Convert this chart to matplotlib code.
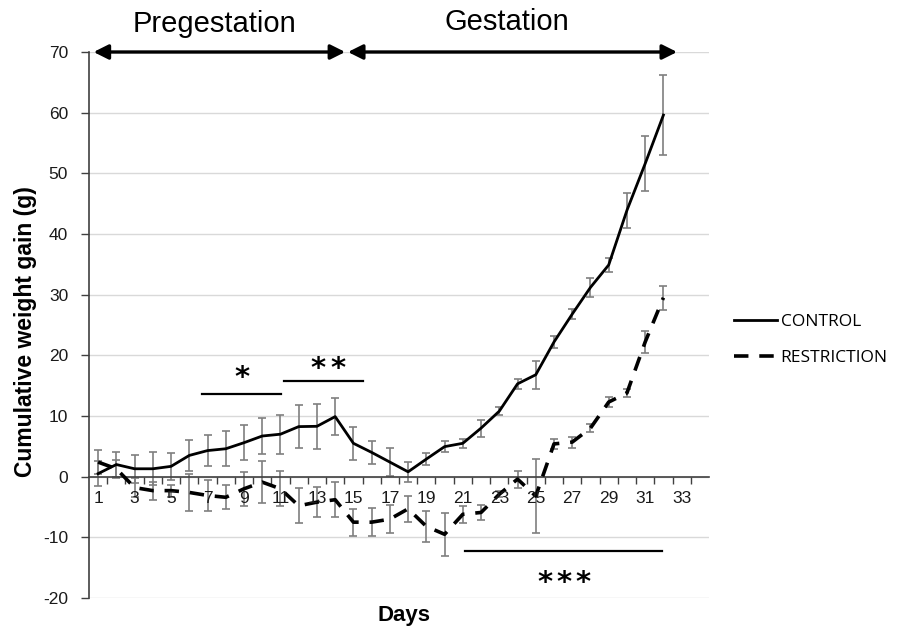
import matplotlib
matplotlib.use("Agg")
import matplotlib.pyplot as plt
import numpy as np

plt.rcParams['font.family'] = ['Liberation Sans', 'DejaVu Sans']

days = list(range(1, 33))
control = [0.5, 2.0, 1.3, 1.3, 1.7, 3.5, 4.3, 4.6, 5.6, 6.7, 7.0, 8.25, 8.3, 9.9,
           5.5, 4.0, 2.4, 0.8, 2.9, 4.95, 5.5, 8.0, 10.8, 15.3, 16.8, 22.2, 26.8,
           31.2, 34.9, 43.9, 51.6, 59.6]
control_se = [2.0, 2.0, 2.3, 2.7, 2.2, 2.5, 2.5, 2.9, 2.9, 3.0, 3.2, 3.5, 3.7, 3.1,
              2.7, 1.9, 2.3, 1.6, 1.0, 0.9, 0.7, 1.4, 0.7, 0.8, 2.3, 1.0, 0.8,
              1.6, 1.1, 2.9, 4.5, 6.6]
restriction = [2.4, 1.3, -1.8, -2.3, -2.3, -2.6, -3.1, -3.4, -2.0, -0.9, -2.0, -4.8,
               -4.2, -3.8, -7.5, -7.5, -7.0, -5.3, -8.2, -9.5, -6.2, -5.9, -2.9,
               -0.4, -3.2, 5.4, 5.7, 8.0, 12.3, 13.8, 22.2, 29.5]
restriction_se = [2.0, 1.5, 1.5, 1.5, 1.0, 3.0, 2.5, 2.0, 2.8, 3.5, 2.9, 2.9, 2.5,
                  2.9, 2.2, 2.3, 2.3, 2.1, 2.5, 3.5, 1.4, 1.2, 0.5, 1.4, 6.1, 0.8,
                  0.9, 0.7, 0.8, 0.6, 1.8, 2.0]
x_tick_labels = [str(d) for d in range(1, 34, 2)]
y_ticks = list(range(-20, 71, 10))

fig = plt.figure(figsize=(8.97, 6.27), dpi=100)
ax = fig.add_axes([89/897, 29/627, (709-89)/897, (598-52)/627])

ax.set_xlim(0.5, 34.5)
ax.set_ylim(-20, 70)
for y in y_ticks:
    ax.axhline(y, color='#d9d9d9', lw=1.0, zorder=0)

ax.errorbar(days, control, yerr=control_se, fmt='none', ecolor='#7f7f7f',
            elinewidth=1.2, capsize=3, capthick=1.2, zorder=2)
ax.errorbar(days, restriction, yerr=restriction_se, fmt='none', ecolor='#7f7f7f',
            elinewidth=1.2, capsize=3, capthick=1.2, zorder=2)
l1, = ax.plot(days, control, color='black', lw=2.0, zorder=3, label='CONTROL')
l2, = ax.plot(days, restriction, color='black', lw=2.6, ls=(0, (4, 3)), zorder=3,
              label='RESTRICTION')

ax.spines['top'].set_visible(False)
ax.spines['right'].set_visible(False)
ax.spines['bottom'].set_position(('data', 0))
ax.spines['left'].set_color('#404040')
ax.spines['bottom'].set_color('#404040')
ax.spines['left'].set_linewidth(1.2)
ax.spines['bottom'].set_linewidth(1.2)

ax.set_xticks(np.arange(1.5, 34.5, 1))
ax.set_xticklabels([])
ax.tick_params(axis='x', which='major', direction='out', length=5, color='#404040', width=1)
for i, lab in enumerate(x_tick_labels):
    d = 1 + 2 * i
    ax.text(d, -2.4, lab, ha='center', va='top', fontsize=12.5, color='#1a1a1a')

ax.set_yticks(y_ticks)
ax.set_yticklabels([str(v) for v in y_ticks], fontsize=12.5, color='#1a1a1a')
ax.tick_params(axis='y', direction='out', length=6, color='#404040', width=1, pad=9)

fig.text(26/897, 1 - 332/627, 'Cumulative weight gain (g)', rotation=90, ha='center',
         va='center', fontsize=16.5, fontweight='bold')
fig.text(404/897, 1 - 615/627, 'Days', ha='center', va='center', fontsize=16,
         fontweight='bold')

# arrows
arrow_kw = dict(arrowstyle='<|-|>', color='black', lw=2.4, mutation_scale=22,
                shrinkA=0, shrinkB=0)
ax.annotate('', xy=(14.55, 70), xytext=(0.75, 70), arrowprops=arrow_kw,
            annotation_clip=False)
ax.annotate('', xy=(32.75, 70), xytext=(14.7, 70), arrowprops=arrow_kw,
            annotation_clip=False)
ax.text(7.4, 72.3, 'Pregestation', ha='center', va='bottom', fontsize=21)
ax.text(23.4, 72.6, 'Gestation', ha='center', va='bottom', fontsize=21)

# significance markers
star_kw = dict(ha='center', va='center', fontsize=21, fontweight='bold',
               family='DejaVu Sans')
ax.plot([6.7, 11.05], [13.7, 13.7], color='black', lw=1.6)
ax.text(8.9, 16.2, '*', **star_kw)
ax.plot([11.2, 15.5], [15.7, 15.7], color='black', lw=1.6)
for xs in (13.05, 14.15):
    ax.text(xs, 17.8, '*', **star_kw)
ax.plot([21.1, 31.9], [-12.2, -12.2], color='black', lw=1.6)
for xs in (25.5, 26.55, 27.6):
    ax.text(xs, -17.6, '*', **star_kw)

fig.legend(handles=[l1, l2], loc='center left', bbox_to_anchor=(718/897, 1 - 340/627),
           frameon=False, handlelength=2.5, labelspacing=1.15,
           handletextpad=0.2, prop={'family': 'Open Sans', 'size': 12.5})

fig.savefig('out.png', dpi=100)
